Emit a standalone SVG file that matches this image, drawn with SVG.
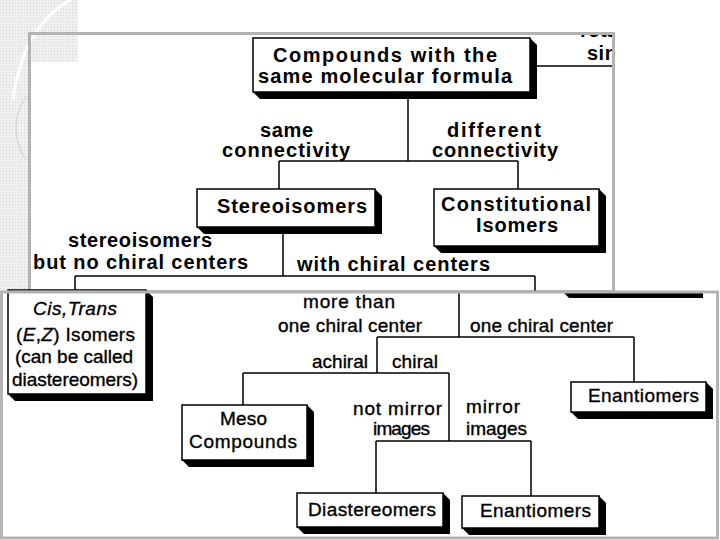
<svg xmlns="http://www.w3.org/2000/svg" width="720" height="540" viewBox="0 0 720 540">
<defs>
<style>
.t{font-family:"Liberation Sans",Arial,sans-serif;font-size:20px;font-weight:bold;fill:#000}
.b{font-family:"Liberation Sans",Arial,sans-serif;font-size:19px;fill:#000;stroke:#000;stroke-width:0.35}
.ln{stroke:#000;stroke-width:1.5;fill:none}
.sh{fill:#000}
.bx{fill:#fff;stroke:#000;stroke-width:1.5}
.fr{fill:none;stroke:#b3b3b3;stroke-width:3}
</style>
<pattern id="dots" width="3" height="3" patternUnits="userSpaceOnUse">
<rect width="3" height="3" fill="#f0f0f0"/>
<rect width="1" height="1" fill="#d4d4d4"/>
</pattern>
<clipPath id="topclip"><rect x="31" y="35" width="581" height="256"/></clipPath>
</defs>

<rect width="720" height="540" fill="#fff"/>
<g id="background">
<rect x="0" y="0" width="78" height="62" fill="url(#dots)"/>
<rect x="0" y="0" width="28" height="291" fill="url(#dots)"/>
<path d="M70,0 C45,15 26,40 18,75 C14,88 13,94 14,100" stroke="#fff" stroke-width="3" fill="none"/>
<path d="M27,97 C13,110 12,145 27,160" stroke="#cccccc" stroke-width="1" fill="none"/>
</g>

<g id="top-frame">
<rect x="29.5" y="33.5" width="584" height="258" fill="#fff" class="fr"/>
</g>
<g id="bottom-frame-fill">
<rect x="1.5" y="292" width="716" height="246" fill="#fff"/>
</g>

<g id="connectors">
<path class="ln" d="M408,99 V161 M279,161 H518 M279,161 V189 M518,161 V189"/>
<path class="ln" d="M537,66 H612"/>
<path class="ln" d="M283,234 V276 M75,276 H535 M75,276 V291 M535,276 V291"/>
<path class="ln" d="M459,293 V337 M377,337 H634 M634,337 V382 M377,337 V373 M243,373 H449 M243,373 V405 M449,373 V441 M376,441 H531 M376,441 V493 M531,441 V496"/>
</g>

<g id="node-compounds">
<polygon class="sh" points="253,92 260,99 537,99 537,45 530,38"/>
<rect class="bx" x="253" y="38" width="277" height="54"/>
<text class="t" x="273" y="62" textLength="224" lengthAdjust="spacing">Compounds with the</text>
<text class="t" x="258" y="83" textLength="254" lengthAdjust="spacing">same molecular formula</text>
</g>

<g id="node-offscreen" clip-path="url(#topclip)">
<text class="t" x="580" y="37">rotation</text>
<text class="t" x="587" y="60" letter-spacing="0.5">single</text>
</g>

<g id="node-stereoisomers">
<polygon class="sh" points="197,227 204,234 382,234 382,196 375,189"/>
<rect class="bx" x="197" y="189" width="178" height="38"/>
<text class="t" x="217" y="213" textLength="150" lengthAdjust="spacing">Stereoisomers</text>
</g>

<g id="node-constitutional">
<polygon class="sh" points="434,246 441,253 606,253 606,196 599,189"/>
<rect class="bx" x="434" y="189" width="165" height="57"/>
<text class="t" x="441" y="211" textLength="150" lengthAdjust="spacing">Constitutional</text>
<text class="t" x="476" y="232" textLength="82" lengthAdjust="spacing">Isomers</text>
</g>

<g id="node-cistrans">
<polygon class="sh" points="8,394 15,401 153,401 153,297 146,290"/>
<rect class="bx" x="8" y="290" width="138" height="104"/>
<text class="b" x="33" y="315" font-style="italic" textLength="84" lengthAdjust="spacing">Cis,Trans</text>
<text class="b" x="16" y="341" textLength="119" lengthAdjust="spacing">(<tspan font-style="italic">E</tspan>,<tspan font-style="italic">Z</tspan>) Isomers</text>
<text class="b" x="15" y="363" textLength="118" lengthAdjust="spacing">(can be called</text>
<text class="b" x="12" y="386" textLength="126" lengthAdjust="spacing">diastereomers)</text>
</g>

<g id="node-hidden-shadow">
<polygon class="sh" points="564,293 703,293 703,298 569,298"/>
</g>

<g id="node-enantiomers-1">
<polygon class="sh" points="571,412 578,419 713,419 713,389 706,382"/>
<rect class="bx" x="571" y="382" width="135" height="30"/>
<text class="b" x="588" y="402" textLength="111" lengthAdjust="spacing">Enantiomers</text>
</g>

<g id="node-meso">
<polygon class="sh" points="182,460 189,467 314,467 314,412 307,405"/>
<rect class="bx" x="182" y="405" width="125" height="55"/>
<text class="b" x="220" y="425" textLength="47" lengthAdjust="spacing">Meso</text>
<text class="b" x="189" y="448" textLength="108" lengthAdjust="spacing">Compounds</text>
</g>

<g id="node-diastereomers">
<polygon class="sh" points="297,527 304,534 450,534 450,500 443,493"/>
<rect class="bx" x="297" y="493" width="146" height="34"/>
<text class="b" x="308" y="516" textLength="128" lengthAdjust="spacing">Diastereomers</text>
</g>

<g id="node-enantiomers-2">
<polygon class="sh" points="462,528 469,535 606,535 606,503 599,496"/>
<rect class="bx" x="462" y="496" width="137" height="32"/>
<text class="b" x="480" y="517" textLength="111" lengthAdjust="spacing">Enantiomers</text>
</g>

<g id="labels">
<text class="t" x="260" y="137" textLength="53" lengthAdjust="spacing">same</text>
<text class="t" x="222" y="157" textLength="128" lengthAdjust="spacing">connectivity</text>
<text class="t" x="447" y="137" textLength="94" lengthAdjust="spacing">different</text>
<text class="t" x="432" y="157" textLength="126" lengthAdjust="spacing">connectivity</text>
<text class="t" x="68" y="247" textLength="144" lengthAdjust="spacing">stereoisomers</text>
<text class="t" x="33" y="269" textLength="215" lengthAdjust="spacing">but no chiral centers</text>
<text class="t" x="297" y="271" textLength="193" lengthAdjust="spacing">with chiral centers</text>
<text class="b" x="303" y="308" textLength="92" lengthAdjust="spacing">more than</text>
<text class="b" x="278" y="332" textLength="144" lengthAdjust="spacing">one chiral center</text>
<text class="b" x="470" y="332" textLength="143" lengthAdjust="spacing">one chiral center</text>
<text class="b" x="312" y="368" textLength="56" lengthAdjust="spacing">achiral</text>
<text class="b" x="392" y="368" textLength="46" lengthAdjust="spacing">chiral</text>
<text class="b" x="353" y="415" textLength="89" lengthAdjust="spacing">not mirror</text>
<text class="b" x="373" y="435" textLength="57" lengthAdjust="spacing">images</text>
<text class="b" x="466" y="413" textLength="54" lengthAdjust="spacing">mirror</text>
<text class="b" x="466" y="435" textLength="61" lengthAdjust="spacing">images</text>
</g>

<g id="bottom-frame">
<rect class="fr" x="1.5" y="292" width="716" height="246"/>
</g>
</svg>
